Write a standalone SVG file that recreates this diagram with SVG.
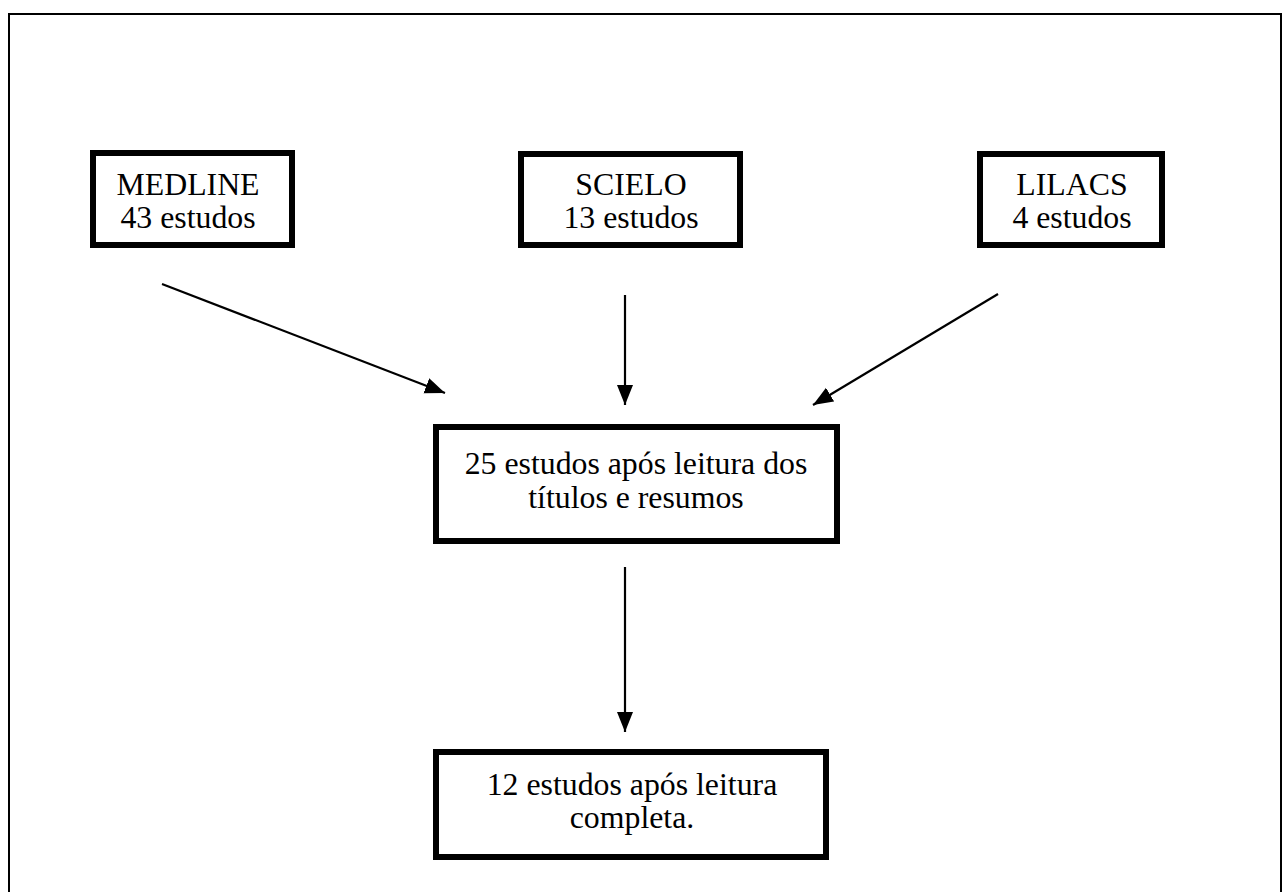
<svg xmlns="http://www.w3.org/2000/svg" width="1283" height="892" viewBox="0 0 1283 892">
<style>
.box{fill:#fff;stroke:#000;stroke-width:6}
.t{font-family:"Liberation Serif","Times New Roman",serif;font-size:31.8px;fill:#000;text-anchor:middle}
.c{stroke:#000;stroke-width:2.2;fill:none}
</style>
<defs>
<marker id="ah" markerUnits="userSpaceOnUse" markerWidth="22" markerHeight="18" refX="20" refY="8" orient="auto">
<path d="M0,0 L20,8 L0,16 Z" fill="#000"/>
</marker>
</defs>
<rect x="0" y="0" width="1283" height="892" fill="#fff"/>
<rect x="9" y="14" width="1272" height="900" fill="none" stroke="#000" stroke-width="2"/>
<g id="medline">
<rect class="box" x="93" y="153" width="199" height="92"/>
<text class="t" x="188" y="195">MEDLINE</text>
<text class="t" x="188" y="228">43 estudos</text>
</g>
<g id="scielo">
<rect class="box" x="521" y="154" width="219" height="91"/>
<text class="t" x="631" y="195">SCIELO</text>
<text class="t" x="631" y="228">13 estudos</text>
</g>
<g id="lilacs">
<rect class="box" x="980" y="154" width="182" height="91"/>
<text class="t" x="1072" y="195">LILACS</text>
<text class="t" x="1072" y="228">4 estudos</text>
</g>
<g id="triagem">
<rect class="box" x="436" y="427" width="401" height="114"/>
<text class="t" x="636" y="474">25 estudos após leitura dos</text>
<text class="t" x="636" y="508">títulos e resumos</text>
</g>
<g id="final">
<rect class="box" x="436" y="752" width="390" height="105"/>
<text class="t" x="632" y="795">12 estudos após leitura</text>
<text class="t" x="632" y="828">completa.</text>
</g>
<g id="connectors">
<line class="c" x1="162" y1="284" x2="445" y2="393" marker-end="url(#ah)"/>
<line class="c" x1="625" y1="295" x2="625" y2="405" marker-end="url(#ah)"/>
<line class="c" x1="998" y1="294" x2="813" y2="405" marker-end="url(#ah)"/>
<line class="c" x1="625" y1="567" x2="625" y2="732" marker-end="url(#ah)"/>
</g>
</svg>
